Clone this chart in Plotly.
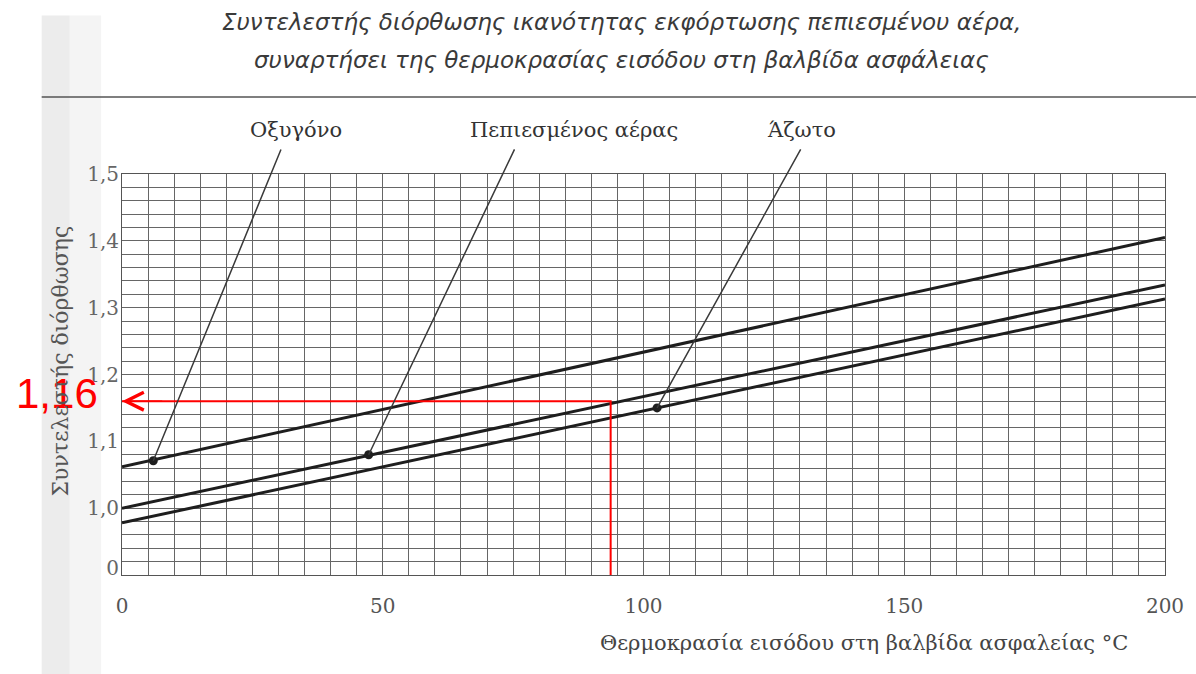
import plotly.graph_objects as go

# ---- data ----
temperature = [0, 200]
oxygen = [1.062, 1.405]
air = [1.000, 1.334]
nitrogen = [0.978, 1.313]

series_names = ["Οξυγόνο", "Πεπιεσμένος αέρας", "Άζωτο"]
dot_x = [6.0, 47.3, 102.6]
dot_y = [1.071, 1.080, 1.150]
leader_tail_x = [30.6, 75.4, 130.3]
leader_tail_y = [1.539, 1.539, 1.539]
label_center_x = [33.3, 86.6, 130.3]

x_tick_vals = list(range(0, 201, 5))
x_tick_labels = ["0", "50", "100", "150", "200"]
y_label_vals = [0.91, 1.0, 1.1, 1.2, 1.3, 1.4, 1.5]
y_label_text = ["0", "1,0", "1,1", "1,2", "1,3", "1,4", "1,5"]

read_x = 93.7
read_y = 1.16
read_text = "1,16"

title_lines = [
    "Συντελεστής διόρθωσης ικανότητας εκφόρτωσης πεπιεσμένου αέρα,",
    "συναρτήσει της θερμοκρασίας εισόδου στη βαλβίδα ασφάλειας",
]
x_title = "Θερμοκρασία εισόδου στη βαλβίδα ασφαλείας °C"
y_title = "Συντελεστής διόρθωσης"

# ---- figure ----
SERIF = "DejaVu Serif, Liberation Serif, serif"
fig = go.Figure()

for name, vals in zip(series_names, [oxygen, air, nitrogen]):
    fig.add_trace(go.Scatter(x=temperature, y=vals, mode="lines", name=name,
                             line=dict(color="#1e1e1e", width=3), showlegend=False,
                             hoverinfo="skip"))

fig.add_trace(go.Scatter(x=dot_x, y=dot_y, mode="markers", showlegend=False,
                         marker=dict(color="#1e1e1e", size=9), hoverinfo="skip"))

# red reading line
fig.add_trace(go.Scatter(x=[read_x, read_x, 0], y=[0.9, read_y, read_y], mode="lines",
                         line=dict(color="#ff0000", width=2), showlegend=False,
                         hoverinfo="skip", cliponaxis=False))

# invisible trace for label axis
fig.add_trace(go.Scatter(x=[0], y=[1.0], yaxis="y2", mode="markers",
                         marker=dict(opacity=0), showlegend=False, hoverinfo="skip"))

annotations = []
for hx, hy, tx, ty in zip(dot_x, dot_y, leader_tail_x, leader_tail_y):
    annotations.append(dict(x=hx, y=hy, xref="x", yref="y", ax=tx, ay=ty,
                            axref="x", ayref="y", text="", showarrow=True,
                            arrowhead=0, arrowwidth=1.5, arrowcolor="#3a3a3a"))
for name, cx in zip(series_names, label_center_x):
    annotations.append(dict(x=cx, y=1.11, xref="x", yref="paper", text=name,
                            showarrow=False, xanchor="center", yanchor="middle",
                            font=dict(family=SERIF, size=21, color="#333")))

# arrow head at the axis
annotations.append(dict(x=0, y=read_y, xref="x", yref="y", ax=8, ay=read_y,
                        axref="x", ayref="y", text="", showarrow=True,
                        arrowhead=5, arrowsize=2.2, arrowwidth=1.6,
                        arrowcolor="#ff0000", standoff=0))
annotations.append(dict(x=0, y=read_y, xref="x", yref="y", text=read_text,
                        showarrow=False, xanchor="right", yanchor="middle",
                        xshift=-22, yshift=8,
                        font=dict(family="Liberation Sans, Arial, sans-serif",
                                  size=42, color="#ff0000")))

for txt, yy in zip(title_lines, [1.379, 1.284]):
    annotations.append(dict(x=0.4786, y=yy, xref="paper", yref="paper", text=txt,
                            showarrow=False, xanchor="center", yanchor="middle",
                            font=dict(family="DejaVu Sans, sans-serif", size=23,
                                      color="#3a3a3a", style="italic")))

annotations.append(dict(x=0.711, y=-0.1696, xref="paper", yref="paper", text=x_title,
                        showarrow=False, xanchor="center", yanchor="middle",
                        font=dict(family=SERIF, size=21, color="#444")))
annotations.append(dict(x=-0.0589, y=0.534, xref="paper", yref="paper", text=y_title,
                        showarrow=False, xanchor="center", yanchor="middle",
                        textangle=-90,
                        font=dict(family=SERIF, size=22, color="#555")))

shapes = [
    dict(type="rect", xref="paper", yref="paper", x0=-0.077, x1=-0.05, y0=-0.25,
         y1=1.395, fillcolor="#ececec", line=dict(width=0), layer="below"),
    dict(type="rect", xref="paper", yref="paper", x0=-0.05, x1=-0.02, y0=-0.25,
         y1=1.395, fillcolor="#f4f4f4", line=dict(width=0), layer="below"),
    dict(type="line", xref="paper", yref="paper", x0=-0.077, x1=1.03, y0=1.192,
         y1=1.192, line=dict(color="#555", width=1.5)),
]

fig.update_layout(
    width=1196, height=674,
    margin=dict(l=122, r=21, t=174, b=99),
    paper_bgcolor="white", plot_bgcolor="white",
    annotations=annotations, shapes=shapes,
    xaxis=dict(range=[0, 200], tickmode="array", tickvals=x_tick_vals,
               ticktext=[str(v) if v % 50 == 0 else "" for v in x_tick_vals],
               showgrid=True, gridcolor="#666", gridwidth=1, zeroline=False,
               showline=True, linecolor="#555", linewidth=1, mirror=True,
               ticks="", ticklabelstandoff=13,
               tickfont=dict(family=SERIF, size=20, color="#555")),
    yaxis=dict(range=[0.9, 1.5], tickmode="linear", tick0=0.9, dtick=0.02,
               showticklabels=False, showgrid=True, gridcolor="#666", gridwidth=1,
               zeroline=False, showline=True, linecolor="#555", linewidth=1,
               mirror=True, ticks=""),
    yaxis2=dict(range=[0.9, 1.5], overlaying="y", side="left", tickmode="array",
                tickvals=y_label_vals, ticktext=y_label_text, showgrid=False,
                zeroline=False, showline=False, ticks="", ticklabelstandoff=2,
                tickfont=dict(family=SERIF, size=20, color="#666")),
)

fig.write_html("out.html")
